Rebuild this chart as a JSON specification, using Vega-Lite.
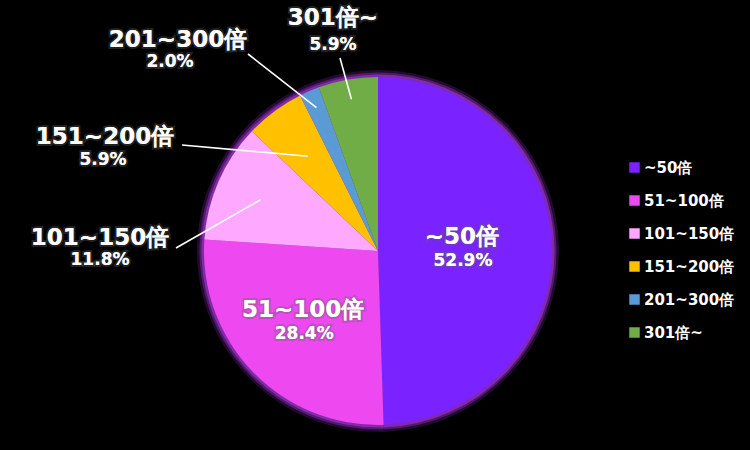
{
  "$schema": "https://vega.github.io/schema/vega-lite/v6.json",
  "width": 744,
  "height": 398,
  "padding": {"left": 6, "top": 52, "right": 0, "bottom": 0},
  "autosize": {"type": "none"},
  "background": "#000000",
  "config": {"view": {"stroke": null}, "font": "DejaVu Sans"},
  "data": {
    "values": [
      {"cat": "~50倍", "value": 52.9, "idx": 0},
      {"cat": "51~100倍", "value": 28.4, "idx": 1},
      {"cat": "101~150倍", "value": 11.8, "idx": 2},
      {"cat": "151~200倍", "value": 5.9, "idx": 3},
      {"cat": "201~300倍", "value": 2.0, "idx": 4},
      {"cat": "301倍~", "value": 5.9, "idx": 5}
    ]
  },
  "transform": [
    {"window": [{"op": "sum", "field": "value", "as": "cum"}], "sort": [{"field": "idx"}], "frame": [null, 0]},
    {"joinaggregate": [{"op": "sum", "field": "value", "as": "total"}]},
    {"calculate": "2*PI*(datum.cum - datum.value/2)/datum.total", "as": "mid"},
    {"calculate": "format(datum.value, '.1f') + '%'", "as": "pctLabel"},
    {"calculate": "datum.idx < 2 ? [84,104][datum.idx]*sin(datum.mid) : [0,0,-278,-273,-200,-45][datum.idx]", "as": "tx"},
    {"calculate": "datum.idx < 2 ? [84,104][datum.idx]*cos(datum.mid) + 13 : [0,0,13,114,211,233][datum.idx]", "as": "ty"},
    {"calculate": "datum.idx < 2 ? [84,104][datum.idx]*sin(datum.mid) + 1 : [0,0,-278,-275,-208,-45][datum.idx]", "as": "px"},
    {"calculate": "datum.idx < 2 ? [84,104][datum.idx]*cos(datum.mid) - 11 : [0,0,-9,91,189,206][datum.idx]", "as": "py"}
  ],
  "layer": [
    {
      "mark": {"type": "arc", "outerRadius": 181, "fill": "#8A2AC0", "opacity": 0.25},
      "encoding": {
        "theta": {"field": "value", "type": "quantitative", "stack": true},
        "order": {"field": "idx", "type": "quantitative"}
      }
    },
    {
      "mark": {"type": "arc", "outerRadius": 178.5, "fill": "#9A30D0", "opacity": 0.4},
      "encoding": {
        "theta": {"field": "value", "type": "quantitative", "stack": true},
        "order": {"field": "idx", "type": "quantitative"}
      }
    },
    {
      "mark": {"type": "arc", "outerRadius": 176.5, "fill": "#B040E0", "opacity": 0.5},
      "encoding": {
        "theta": {"field": "value", "type": "quantitative", "stack": true},
        "order": {"field": "idx", "type": "quantitative"}
      }
    },
    {
      "mark": {"type": "arc", "outerRadius": 174},
      "encoding": {
        "theta": {"field": "value", "type": "quantitative", "stack": true},
        "order": {"field": "idx", "type": "quantitative"},
        "color": {
          "field": "cat",
          "type": "nominal",
          "sort": null,
          "scale": {
            "domain": ["~50倍", "51~100倍", "101~150倍", "151~200倍", "201~300倍", "301倍~"],
            "range": ["#7A22FF", "#EE48F0", "#FFA8FF", "#FFC000", "#5B9BD5", "#70AD47"]
          },
          "legend": {
            "orient": "none",
            "legendX": 621,
            "legendY": 108,
            "title": null,
            "symbolType": "square",
            "symbolSize": 110,
            "symbolStrokeWidth": 0,
            "labelFontSize": 15,
            "labelColor": "#FFFFFF",
            "labelFont": "DejaVu Sans",
            "labelFontWeight": "bold",
            "rowPadding": 17,
            "labelOffset": 2
          }
        }
      }
    },
    {
      "transform": [
        {"filter": "datum.idx >= 2"},
        {"calculate": "[0,0,128,118,156,154][datum.idx]", "as": "sr"},
        {"calculate": "datum.sr*sin(datum.mid)", "as": "sx"},
        {"calculate": "datum.sr*cos(datum.mid)", "as": "sy"},
        {"calculate": "[0,0,-202,-196,-130,-38][datum.idx]", "as": "ex"},
        {"calculate": "[0,0,3,106,197,193][datum.idx]", "as": "ey"}
      ],
      "mark": {"type": "rule", "color": "#FFFFFF", "strokeWidth": 1.6},
      "encoding": {
        "x": {"field": "sx", "type": "quantitative", "scale": {"domain": [-372, 372], "nice": false, "zero": false}, "axis": null},
        "y": {"field": "sy", "type": "quantitative", "scale": {"domain": [-199, 199], "nice": false, "zero": false}, "axis": null},
        "x2": {"field": "ex"},
        "y2": {"field": "ey"}
      }
    },
    {
      "mark": {"type": "text", "fontSize": 23, "fontWeight": "bold", "fill": "#FFFFFF", "stroke": "#606060", "strokeWidth": 4, "strokeOpacity": 0.35, "font": "DejaVu Sans", "align": "center", "baseline": "middle"},
      "encoding": {
        "x": {"field": "tx", "type": "quantitative", "scale": {"domain": [-372, 372], "nice": false, "zero": false}, "axis": null},
        "y": {"field": "ty", "type": "quantitative", "scale": {"domain": [-199, 199], "nice": false, "zero": false}, "axis": null},
        "text": {"field": "cat", "type": "nominal"}
      }
    },
    {
      "mark": {"type": "text", "fontSize": 17, "fontWeight": "bold", "fill": "#FFFFFF", "stroke": "#606060", "strokeWidth": 4, "strokeOpacity": 0.35, "font": "DejaVu Sans", "align": "center", "baseline": "middle"},
      "encoding": {
        "x": {"field": "px", "type": "quantitative", "scale": {"domain": [-372, 372], "nice": false, "zero": false}, "axis": null},
        "y": {"field": "py", "type": "quantitative", "scale": {"domain": [-199, 199], "nice": false, "zero": false}, "axis": null},
        "text": {"field": "pctLabel", "type": "nominal"}
      }
    },
    {
      "mark": {"type": "text", "fontSize": 23, "fontWeight": "bold", "color": "#FFFFFF", "font": "DejaVu Sans", "align": "center", "baseline": "middle"},
      "encoding": {
        "x": {"field": "tx", "type": "quantitative", "scale": {"domain": [-372, 372], "nice": false, "zero": false}, "axis": null},
        "y": {"field": "ty", "type": "quantitative", "scale": {"domain": [-199, 199], "nice": false, "zero": false}, "axis": null},
        "text": {"field": "cat", "type": "nominal"}
      }
    },
    {
      "mark": {"type": "text", "fontSize": 17, "fontWeight": "bold", "color": "#FFFFFF", "font": "DejaVu Sans", "align": "center", "baseline": "middle"},
      "encoding": {
        "x": {"field": "px", "type": "quantitative", "scale": {"domain": [-372, 372], "nice": false, "zero": false}, "axis": null},
        "y": {"field": "py", "type": "quantitative", "scale": {"domain": [-199, 199], "nice": false, "zero": false}, "axis": null},
        "text": {"field": "pctLabel", "type": "nominal"}
      }
    }
  ]
}
